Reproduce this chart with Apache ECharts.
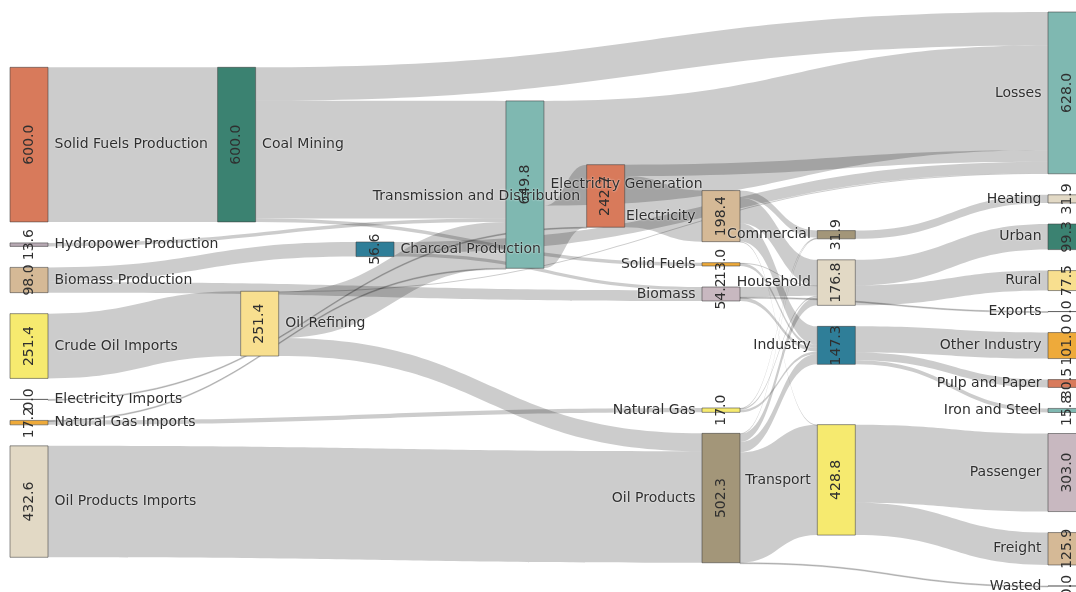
<!DOCTYPE html>
<html>
<head>
<meta charset="utf-8">
<script src="https://cdn.jsdelivr.net/npm/echarts@6/dist/echarts.min.js"></script>
<style>
html,body{margin:0;padding:0;background:#fff;}
#chart{width:1076px;height:592px;}
</style>
</head>
<body>
<div id="chart"></div>
<script>
// ---------- DATA ----------
const nodeNames = [
  'Solid Fuels Production','Hydropower Production','Biomass Production','Crude Oil Imports',
  'Natural Gas Imports','Electricity Imports','Oil Products Imports',
  'Coal Mining','Oil Refining','Charcoal Production','Electricity Generation','Transmission and Distribution',
  'Solid Fuels','Electricity','Natural Gas','Biomass','Oil Products',
  'Commercial','Household','Industry','Transport',
  'Losses','Heating','Urban','Rural','Exports','Other Industry','Pulp and Paper','Iron and Steel',
  'Passenger','Freight','Wasted'
];
const nodeValues = [
  600.0, 13.6, 98.0, 251.4,
  17.2, 0.0, 432.6,
  600.0, 251.4, 56.6, 649.8, 242.7,
  13.0, 198.4, 17.0, 54.2, 502.3,
  31.9, 176.8, 147.3, 428.8,
  628.0, 31.9, 99.3, 77.5, 0.0, 101.0, 30.5, 15.8,
  303.0, 125.9, 0.0
];
const linkSources = [
  'Solid Fuels Production','Hydropower Production','Biomass Production','Biomass Production',
  'Crude Oil Imports','Natural Gas Imports','Natural Gas Imports','Electricity Imports','Oil Products Imports',
  'Coal Mining','Coal Mining','Coal Mining',
  'Oil Refining','Oil Refining','Oil Refining',
  'Charcoal Production','Charcoal Production',
  'Electricity Generation','Electricity Generation',
  'Transmission and Distribution','Transmission and Distribution',
  'Solid Fuels','Solid Fuels',
  'Electricity','Electricity','Electricity','Electricity',
  'Natural Gas','Natural Gas','Natural Gas',
  'Biomass','Biomass','Biomass',
  'Oil Products','Oil Products','Oil Products','Oil Products','Oil Products',
  'Commercial','Household','Household',
  'Industry','Industry','Industry',
  'Transport','Transport'
];
const linkTargets = [
  'Coal Mining','Electricity Generation','Charcoal Production','Biomass',
  'Oil Refining','Natural Gas','Electricity Generation','Transmission and Distribution','Oil Products',
  'Losses','Electricity Generation','Solid Fuels',
  'Electricity Generation','Oil Products','Losses',
  'Biomass','Losses',
  'Losses','Transmission and Distribution',
  'Electricity','Losses',
  'Industry','Household',
  'Commercial','Household','Industry','Transport',
  'Commercial','Household','Industry',
  'Household','Industry','Exports',
  'Commercial','Household','Industry','Transport','Wasted',
  'Heating','Urban','Rural',
  'Other Industry','Pulp and Paper','Iron and Steel',
  'Passenger','Freight'
];
const linkValues = [
  600.0, 13.6, 56.6, 41.4,
  251.4, 17.0, 0.2, 0.04, 432.6,
  130.0, 457.0, 13.0,
  179.0, 69.7, 2.7,
  12.8, 43.8,
  407.1, 242.7,
  198.4, 44.3,
  12.0, 1.0,
  27.9, 98.8, 71.2, 0.5,
  2.0, 5.0, 10.0,
  40.0, 14.2, 0.02,
  2.0, 32.0, 39.9, 428.3, 0.02,
  31.9, 99.3, 77.5,
  101.0, 30.5, 15.8,
  303.0, 125.8
];

// ---------- LAYOUT / STYLE ----------
const nodeColumn = {
  'Solid Fuels Production':0,'Hydropower Production':0,'Biomass Production':0,'Crude Oil Imports':0,
  'Natural Gas Imports':0,'Electricity Imports':0,'Oil Products Imports':0,
  'Coal Mining':18,'Oil Refining':20,'Charcoal Production':30,'Electricity Generation':43,
  'Transmission and Distribution':50,
  'Solid Fuels':60,'Electricity':60,'Natural Gas':60,'Biomass':60,'Oil Products':60,
  'Commercial':70,'Household':70,'Industry':70,'Transport':70,
  'Losses':90,'Heating':90,'Urban':90,'Rural':90,'Exports':90,'Other Industry':90,
  'Pulp and Paper':90,'Iron and Steel':90,'Passenger':90,'Freight':90,'Wasted':90
};
const nodeColors = {
  'Solid Fuels Production':'#d87a5b','Hydropower Production':'#b7a9b3','Biomass Production':'#d5b996',
  'Crude Oil Imports':'#f6ea6f','Natural Gas Imports':'#eeaa3a','Electricity Imports':'#d87a5b',
  'Oil Products Imports':'#e2d9c5','Coal Mining':'#3b8271','Oil Refining':'#f8df8f',
  'Charcoal Production':'#2f7e98','Electricity Generation':'#7fb8b1','Transmission and Distribution':'#d87a5b',
  'Solid Fuels':'#eeaa3a','Electricity':'#d5b996','Natural Gas':'#f6ea6f','Biomass':'#c8b8c0',
  'Oil Products':'#a39679','Commercial':'#a39679','Household':'#e2d9c5','Industry':'#2f7e98',
  'Transport':'#f6ea6f','Losses':'#7fb8b1','Heating':'#e2d9c5','Urban':'#3b8271','Rural':'#f8df8f',
  'Exports':'#a39679','Other Industry':'#eeaa3a','Pulp and Paper':'#d87a5b','Iron and Steel':'#7fb8b1',
  'Passenger':'#c8b8c0','Freight':'#d5b996','Wasted':'#e2d9c5'
};
const FONT = 'DejaVu Sans';
const FONT_SIZE = 14;

const valueOf = {};
nodeNames.forEach((n, i) => { valueOf[n] = nodeValues[i]; });

function buildNodes(withNames) {
  return nodeNames.map((name, i) => ({
    name: name,
    value: nodeValues[i],
    depth: nodeColumn[name],
    itemStyle: withNames
      ? { color: nodeColors[name], borderColor: 'rgba(60,60,60,0.55)', borderWidth: 1 }
      : { color: 'rgba(0,0,0,0)', borderWidth: 0 },
    label: withNames ? { position: nodeColumn[name] >= 50 ? 'left' : 'right' } : {}
  }));
}
function buildLinks(visible) {
  return linkSources.map((s, i) => {
    const thin = linkValues[i] < 0.5;
    return {
      source: s, target: linkTargets[i], value: linkValues[i],
      lineStyle: visible
        ? (thin ? { color: '#000', opacity: 0.2, borderColor: '#000', borderWidth: 0.8 }
                : { color: '#000', opacity: 0.2 })
        : { opacity: 0 }
    };
  });
}

const common = {
  type: 'sankey',
  left: 10, top: 12, right: -10, bottom: 6,
  nodeWidth: 38,
  nodeGap: 21,
  nodeAlign: 'left',
  layoutIterations: 32,
  draggable: false,
  emphasis: { disabled: true },
  animation: false
};

const chart = echarts.init(document.getElementById('chart'), null, { renderer: 'canvas' });
chart.setOption({
  backgroundColor: '#fff',
  animation: false,
  series: [
    Object.assign({}, common, {
      data: buildNodes(true),
      links: buildLinks(true),
      lineStyle: { color: '#000', opacity: 0.2, curveness: 0.5 },
      label: {
        show: true, position: 'right', distance: 6,
        fontFamily: FONT, fontSize: FONT_SIZE, color: '#2f2f2f',
        textShadowColor: '#fff', textShadowBlur: 2,
        formatter: p => p.name
      }
    }),
    Object.assign({}, common, {
      silent: true,
      data: buildNodes(false),
      links: buildLinks(false),
      lineStyle: { opacity: 0, curveness: 0.5 },
      label: {
        show: true, position: 'inside', rotate: 90,
        fontFamily: FONT, fontSize: FONT_SIZE, color: '#2f2f2f',
        formatter: p => valueOf[p.name].toFixed(1)
      }
    })
  ]
});
</script>
</body>
</html>
